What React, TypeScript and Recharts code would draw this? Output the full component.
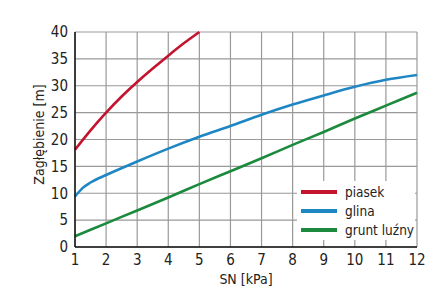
import { LineChart, Line, XAxis, YAxis, CartesianGrid } from 'recharts';

const snTicks = [1, 2, 3, 4, 5, 6, 7, 8, 9, 10, 11, 12];
const depthTicks = [0, 5, 10, 15, 20, 25, 30, 35, 40];

const piasekSN = [1, 1.5, 2, 2.5, 3, 3.5, 4, 4.5, 5];
const piasekDepth = [18.1, 21.7, 25.0, 28.0, 30.7, 33.2, 35.6, 37.9, 40];

const glinaSN = [1, 1.25, 1.5, 2, 3, 4, 5, 6, 7, 8, 9, 10, 11, 12];
const glinaDepth = [9.4, 11.0, 12.0, 13.4, 15.9, 18.3, 20.5, 22.5, 24.6, 26.5, 28.2, 29.8, 31.1, 32.0];

const gruntSN = [1, 2, 3, 4, 5, 6, 7, 8, 9, 10, 11, 12];
const gruntDepth = [2.0, 4.4, 6.8, 9.2, 11.7, 14.1, 16.5, 19.0, 21.4, 23.9, 26.3, 28.7];

const zip = (xs: number[], ys: number[]) => xs.map((x, i) => ({ x, y: ys[i] }));

const series = [
  { name: 'piasek', color: '#c4132f', curve: 'natural', data: zip(piasekSN, piasekDepth) },
  { name: 'glina', color: '#1f86c4', curve: 'monotone', data: zip(glinaSN, glinaDepth) },
  { name: 'grunt luźny', color: '#1b8a3d', curve: 'monotone', data: zip(gruntSN, gruntDepth) },
];

const FONT = '"Liberation Sans Narrow", "DejaVu Sans Condensed", Arial, sans-serif';

export default function App() {
  return (
    <div style={{ position: 'absolute', left: 0, top: 0, width: 445, height: 301, background: '#fff', fontFamily: FONT }}>
      <LineChart width={445} height={301} margin={{ top: 32, right: 28, left: 0, bottom: 0 }}>
        <CartesianGrid stroke="#999" strokeWidth={1.2} />
        <XAxis
          dataKey="x"
          type="number"
          domain={[1, 12]}
          ticks={snTicks}
          allowDuplicatedCategory={false}
          height={54}
          axisLine={{ stroke: '#111', strokeWidth: 1.5 }}
          tickLine={false}
          tick={{ fill: '#222', fontSize: 15, fontFamily: FONT }}
          tickMargin={1}
          label={{ value: 'SN [kPa]', position: 'insideBottom', offset: 17, fill: '#222', fontSize: 14, fontFamily: FONT }}
        />
        <XAxis xAxisId="top" orientation="top" type="number" domain={[1, 12]} height={0} tick={false} tickLine={false} axisLine={{ stroke: '#111', strokeWidth: 1.5 }} />
        <YAxis
          type="number"
          domain={[0, 40]}
          ticks={depthTicks}
          width={75}
          axisLine={{ stroke: '#111', strokeWidth: 1.5 }}
          tickLine={false}
          tick={{ fill: '#222', fontSize: 15, fontFamily: FONT }}
          tickMargin={1}
          label={{ value: 'Zagłębienie [m]', angle: -90, position: 'insideLeft', offset: 39, dy: -5, style: { textAnchor: 'middle' }, fill: '#222', fontSize: 14, fontFamily: FONT }}
        />
        <YAxis yAxisId="right" orientation="right" domain={[0, 40]} width={0} tick={false} tickLine={false} axisLine={{ stroke: '#111', strokeWidth: 1.5 }} />
        {series.map((s) => (
          <Line
            key={s.name}
            data={s.data}
            dataKey="y"
            type={s.curve as any}
            stroke={s.color}
            strokeWidth={2.6}
            dot={false}
            isAnimationActive={false}
          />
        ))}
      </LineChart>
      <div
        style={{
          position: 'absolute',
          left: 297,
          top: 181,
          width: 118,
          height: 58,
          background: '#fff',
          paddingTop: 1,
        }}
      >
        {series.map((s) => (
          <div key={s.name} style={{ display: 'flex', alignItems: 'center', height: 19, whiteSpace: 'nowrap' }}>
            <div style={{ width: 36, height: 4, background: s.color, marginLeft: 4, marginRight: 8, flexShrink: 0 }} />
            <span style={{ fontSize: 13.5, color: '#222', fontFamily: FONT }}>{s.name}</span>
          </div>
        ))}
      </div>
    </div>
  );
}
